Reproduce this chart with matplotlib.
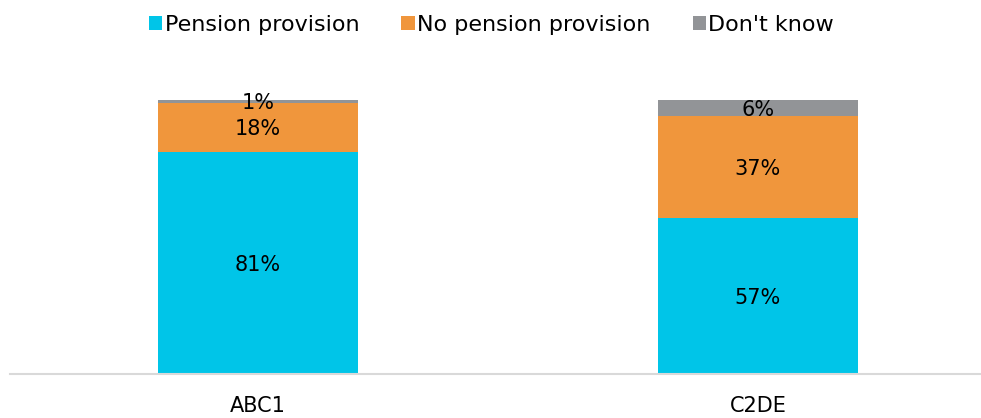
import matplotlib.pyplot as plt
import numpy as np

plt.rcParams['font.family'] = ['DejaVu Sans']

groups = ['ABC1', 'C2DE']
pension = [81, 57]
no_pension = [18, 37]
dont_know = [1, 6]

series_names = ['Pension provision', 'No pension provision', "Don't know"]
colors = ['#00C5E8', '#F0963C', '#929497']

fig = plt.figure(figsize=(9.81, 4.18), dpi=100)
ax = fig.add_axes([10 / 981, 44 / 418, 971 / 981, 274 / 418])

x = np.arange(len(groups))
bottom = np.zeros(len(groups))
for vals, name, col in zip([pension, no_pension, dont_know], series_names, colors):
    vals = np.array(vals, dtype=float)
    ax.bar(x, vals, 0.4, bottom=bottom, color=col, label=name)
    for xi, b, v in zip(x, bottom, vals):
        ax.text(xi, b + v / 2, f'{int(v)}%', ha='center', va='center_baseline',
                fontsize=15, color='black')
    bottom += vals

ax.set_ylim(0, 100)
ax.set_xlim(-0.496, 1.446)
ax.set_yticks([])
ax.set_xticks(x)
ax.set_xticklabels(groups, fontsize=15)
ax.tick_params(axis='x', length=0, pad=16)
for s in ['top', 'right', 'left']:
    ax.spines[s].set_visible(False)
ax.spines['bottom'].set_color('#D9D9D9')
ax.spines['bottom'].set_linewidth(1.5)

handles, labels = ax.get_legend_handles_labels()
fig.legend(handles, labels, loc='center', bbox_to_anchor=(0.501, 0.94), ncol=3,
           frameon=False, fontsize=16, handlelength=0.6, handleheight=0.6,
           handletextpad=0.1, columnspacing=1.9)

plt.savefig('out.png', dpi=100)
